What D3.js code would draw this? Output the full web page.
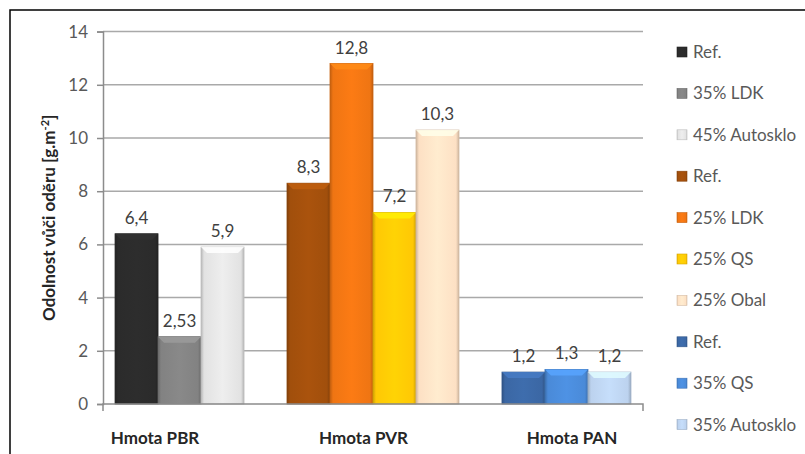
<!DOCTYPE html>
<html>
<head>
<meta charset="utf-8">
<script src="https://cdn.jsdelivr.net/npm/d3@7"></script>
<style>
  html, body { margin: 0; padding: 0; background: #fff; }
  svg { display: block; font-family: Lato, "Open Sans", sans-serif; }
</style>
</head>
<body>
<svg id="chart" width="805" height="454"></svg>
<script>
// slots along the single category, gap = empty spacer slot between groups
const slots = ["PBR-ref", "PBR-ldk", "PBR-auto", "gap1",
               "PVR-ref", "PVR-ldk", "PVR-qs", "PVR-obal", "gap2",
               "PAN-ref", "PAN-qs", "PAN-auto"];
const seriesNames = ["Ref.", "35% LDK", "45% Autosklo",
                     "Ref.", "25% LDK", "25% QS", "25% Obal",
                     "Ref.", "35% QS", "35% Autosklo"];
const seriesKeys = ["PBR-ref", "PBR-ldk", "PBR-auto",
                    "PVR-ref", "PVR-ldk", "PVR-qs", "PVR-obal",
                    "PAN-ref", "PAN-qs", "PAN-auto"];
const values = [6.4, 2.53, 5.9, 8.3, 12.8, 7.2, 10.3, 1.2, 1.3, 1.2];
const valueLabels = ["6,4", "2,53", "5,9", "8,3", "12,8", "7,2", "10,3", "1,2", "1,3", "1,2"];
const colors = ["#2b2b2b", "#828282", "#e2e2e2",
                "#a14f0c", "#ef7513", "#ffc805", "#fde0c4",
                "#3b67a4", "#4a8ad8", "#bcd2ee"];
const groupLabels = ["Hmota PBR", "Hmota PVR", "Hmota PAN"];
const yTicks = [0, 2, 4, 6, 8, 10, 12, 14];

const svg = d3.select("#chart");

// frame lines (top and left)
svg.append("path")
    .attr("d", "M10,454 V10 H805")
    .attr("fill", "none")
    .attr("stroke", "#000")
    .attr("stroke-width", 1.5);

const plot = { left: 103, right: 643, top: 31.6, bottom: 404 };

const x = d3.scaleBand()
    .domain(slots)
    .range([plot.left, plot.right])
    .paddingInner(0)
    .paddingOuter(0.28);

const y = d3.scaleLinear()
    .domain([0, 14])
    .range([plot.bottom, plot.top]);

// gridlines
svg.append("g")
    .selectAll("line")
    .data(yTicks.filter(d => d > 0))
    .join("line")
    .attr("x1", plot.left).attr("x2", plot.right)
    .attr("y1", d => y(d)).attr("y2", d => y(d))
    .attr("stroke", "#a9a9a9")
    .attr("stroke-width", 1.5);

// y axis
const yAxis = svg.append("g")
    .attr("transform", `translate(${plot.left},0)`)
    .call(d3.axisLeft(y).tickValues(yTicks).tickSize(6).tickPadding(9));
yAxis.select(".domain").attr("stroke", "#8c8c8c").attr("stroke-width", 1.5);
yAxis.selectAll(".tick line").attr("stroke", "#8c8c8c").attr("stroke-width", 1.5);
yAxis.selectAll(".tick text")
    .attr("font-family", "Lato, sans-serif")
    .attr("font-size", 17)
    .attr("fill", "#595959");

// defs for bevel look
const defs = svg.append("defs");
colors.forEach((c, i) => {
    const g = defs.append("linearGradient")
        .attr("id", "hg" + i)
        .attr("x1", "0").attr("x2", "1").attr("y1", "0").attr("y2", "0");
    const dark = d3.color(c).darker(0.6).formatHex();
    const light = d3.color(c).brighter(0.15).formatHex();
    g.append("stop").attr("offset", "0").attr("stop-color", dark);
    g.append("stop").attr("offset", "0.07").attr("stop-color", c);
    g.append("stop").attr("offset", "0.5").attr("stop-color", light);
    g.append("stop").attr("offset", "0.93").attr("stop-color", c);
    g.append("stop").attr("offset", "1").attr("stop-color", dark);
});

const bars = svg.append("g");
seriesKeys.forEach((k, i) => {
    const bx = x(k), bw = x.bandwidth();
    const top = y(values[i]);
    const h = plot.bottom - top;
    bars.append("rect")
        .attr("x", bx).attr("y", top)
        .attr("width", bw).attr("height", h)
        .attr("fill", `url(#hg${i})`)
        .attr("stroke", d3.color(colors[i]).darker(0.5).formatHex())
        .attr("stroke-width", 0.8);
    // top bevel
    const bev = 6;
    bars.append("path")
        .attr("d", `M${bx},${top} H${bx + bw} L${bx + bw - bev},${top + bev} H${bx + bev} Z`)
        .attr("fill", d3.color(colors[i]).brighter(0.5).formatHex())
        .attr("opacity", 0.85);
    // value label
    svg.append("text")
        .attr("x", bx + bw / 2)
        .attr("y", top - 10)
        .attr("text-anchor", "middle")
        .attr("font-size", 17)
        .attr("fill", "#404040")
        .text(valueLabels[i]);
});

// x axis line with end ticks
svg.append("path")
    .attr("d", `M${plot.left},${plot.bottom + 7} V${plot.bottom} H${plot.right} V${plot.bottom + 7}`)
    .attr("fill", "none")
    .attr("stroke", "#8c8c8c")
    .attr("stroke-width", 1.5);

// group labels (separate text boxes)
const labelX = d3.scalePoint().domain(groupLabels).range([155, 572]);
svg.append("g")
    .selectAll("text")
    .data(groupLabels)
    .join("text")
    .attr("x", d => labelX(d))
    .attr("y", 444)
    .attr("text-anchor", "middle")
    .attr("font-size", 17)
    .attr("font-weight", "bold")
    .attr("fill", "#262626")
    .text(d => d);

// y title
const yt = svg.append("text")
    .attr("transform", `translate(55,${(plot.top + plot.bottom) / 2}) rotate(-90)`)
    .attr("text-anchor", "middle")
    .attr("font-size", 17)
    .attr("font-weight", "bold")
    .attr("fill", "#262626");
yt.append("tspan").text("Odolnost vůči oděru [g.m");
yt.append("tspan").attr("baseline-shift", "super").attr("font-size", 11).text("-2");
yt.append("tspan").text("]");

// legend
const leg = svg.append("g");
seriesNames.forEach((n, i) => {
    const cy = 52 + i * 41.4;
    leg.append("rect")
        .attr("x", 677).attr("y", cy - 5)
        .attr("width", 10).attr("height", 10)
        .attr("fill", `url(#hg${i})`)
        .attr("stroke", d3.color(colors[i]).darker(0.5).formatHex())
        .attr("stroke-width", 0.6);
    leg.append("text")
        .attr("x", 693).attr("y", cy)
        .attr("dy", "0.35em")
        .attr("font-size", 17)
        .attr("fill", "#595959")
        .text(n);
});
</script>
</body>
</html>
